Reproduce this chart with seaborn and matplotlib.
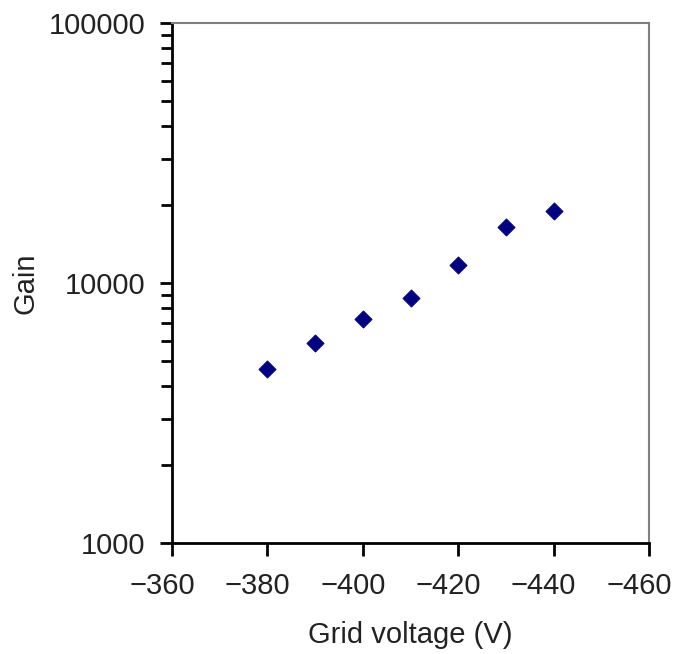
import seaborn as sns
import matplotlib.pyplot as plt
import matplotlib.ticker as mticker
import matplotlib.transforms as mtransforms
import pandas as pd

grid_voltage = [-380, -390, -400, -410, -420, -430, -440]
gain = [4670, 5880, 7250, 8760, 11730, 16420, 18970]

x_ticks = [-360, -380, -400, -420, -440, -460]
y_ticks = [1000, 10000, 100000]
y_tick_labels = ["1000", "10000", "100000"]

sns.set_style("white")
plt.rcParams['font.family'] = ['Liberation Sans', 'DejaVu Sans']

data = pd.DataFrame({'Grid voltage (V)': grid_voltage, 'Gain': gain})

fig = plt.figure(figsize=(6.75, 6.54), dpi=100)
ax = fig.add_axes([0.2548, 0.1697, 0.9615 - 0.2548, 0.9648 - 0.1697])

sns.scatterplot(data=data, x='Grid voltage (V)', y='Gain', marker='D',
                color='#000080', edgecolor='#000080', s=75, ax=ax)

ax.set_yscale('log')
ax.set_ylim(1000, 100000)
ax.set_xlim(-360, -460)
ax.set_xticks(x_ticks)
ax.set_xticklabels([str(t).replace('-', '\u2212') for t in x_ticks])
ax.yaxis.set_major_locator(mticker.FixedLocator(y_ticks))
ax.yaxis.set_major_formatter(mticker.FixedFormatter(y_tick_labels))
ax.yaxis.set_minor_locator(mticker.LogLocator(base=10, subs=range(2, 10)))
ax.yaxis.set_minor_formatter(mticker.NullFormatter())

ax.tick_params(axis='x', which='major', direction='out', length=9, width=2,
               color='black', labelsize=21, labelcolor='#222222', pad=12,
               bottom=True)
ax.tick_params(axis='y', which='major', direction='out', length=9, width=2,
               color='black', labelsize=21, labelcolor='#222222', pad=10,
               left=True)
ax.tick_params(axis='y', which='minor', direction='out', length=8, width=2,
               color='black', left=True)

# the x tick labels sit a little left of their ticks in the original
shift = mtransforms.ScaledTranslation(-10 / 100, 0, fig.dpi_scale_trans)
for lbl in ax.get_xticklabels():
    lbl.set_transform(lbl.get_transform() + shift)

for side in ['left', 'bottom']:
    ax.spines[side].set_color('black')
    ax.spines[side].set_linewidth(2)
for side in ['top', 'right']:
    ax.spines[side].set_color('#808080')
    ax.spines[side].set_linewidth(1.5)

ax.set_xlabel('Grid voltage (V)', fontsize=21, color='#222222', labelpad=15)
ax.set_ylabel('Gain', fontsize=21, color='#222222', labelpad=7)

fig.savefig('out.png', dpi=100)
